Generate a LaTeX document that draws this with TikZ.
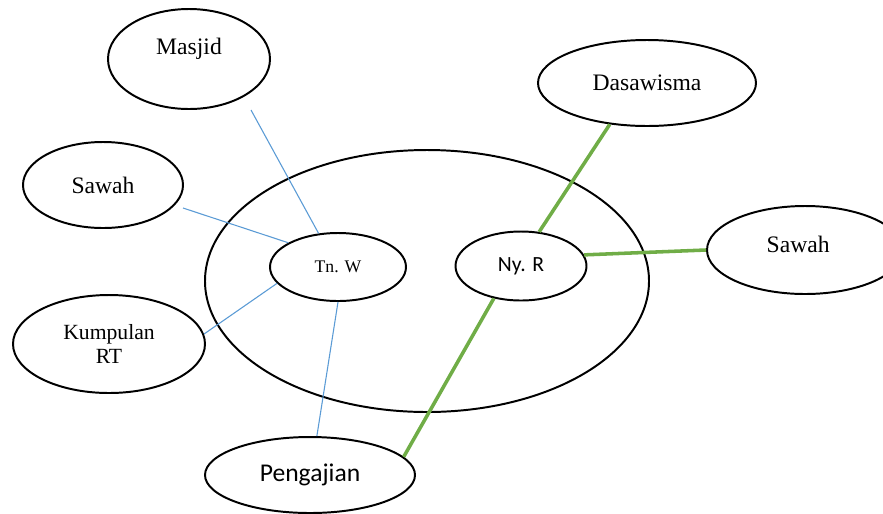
\documentclass[tikz,border=0pt]{standalone}
\usepackage{fontspec}
\setmainfont{Liberation Serif}
\newfontfamily\calibri{Carlito}
\usetikzlibrary{shapes.geometric}
\definecolor{garisbiru}{HTML}{5B9BD5}
\definecolor{garishijau}{HTML}{70AD47}
\begin{document}
\begin{tikzpicture}[x=0.508pt,y=-0.508pt, line join=round,
	bubble/.style 2 args={ellipse, draw, line width=1pt, minimum width=#1*0.508pt, minimum height=#2*0.508pt, inner sep=0pt, align=center, font=\fontsize{12}{14.4}\selectfont},
	teks/.style={font=\fontsize{12}{14.4}\selectfont},
	biru/.style={draw=garisbiru, line width=0.55pt},
	hijau/.style={draw=garishijau, line width=1.8pt}]
	\useasboundingbox (0,0) rectangle (883,513);
	%lingkaran keluarga
	\node[bubble={444}{262}] (keluarga) at (427,281) {};
	\node[bubble={136}{68}, font=\fontsize{9}{11}\selectfont] (tnw) at (338,267) {Tn. W};
	\node[bubble={131}{69}, font=\calibri\fontsize{11}{13}\selectfont] (nyr) at (521,266) {Ny. R};
	%lingkungan luar
	\node[bubble={162}{100}, label={[yshift=5pt, teks]center:Masjid}] (masjid) at (189,59) {};
	\node[bubble={160}{86}] (sawahkiri) at (103,185) {Sawah};
	\node[bubble={192}{98}, font=\fontsize{11}{12.2}\selectfont] (kumpulan) at (109,344) {Kumpulan\\RT};
	\node[bubble={210}{76}, font=\calibri\fontsize{13}{15}\selectfont] (pengajian) at (310,475) {Pengajian};
	\node[bubble={218}{86}] (dasawisma) at (647,83) {Dasawisma};
	\node[bubble={196}{88}, label={[xshift=-3.5pt, yshift=3pt, teks]center:Sawah}] (sawahkanan) at (805,250) {};
	%garis Tn. W
	\coordinate (ujungmasjid) at (251,110);
	\coordinate (ujungsawah) at (183,208);
	\draw[biru] (ujungmasjid)--(tnw.120);
	\draw[biru] (ujungsawah)--(tnw.154);
	\draw[biru] (kumpulan.6)--(tnw.195);
	\draw[biru] (pengajian.80)--(tnw.south);
	%garis Ny. R
	\draw[hijau] (dasawisma.228)--(nyr.62);
	\draw[hijau] (nyr.10)--(sawahkanan.west);
	\draw[hijau] (nyr.230)--(pengajian.11);
\end{tikzpicture}
\end{document}
